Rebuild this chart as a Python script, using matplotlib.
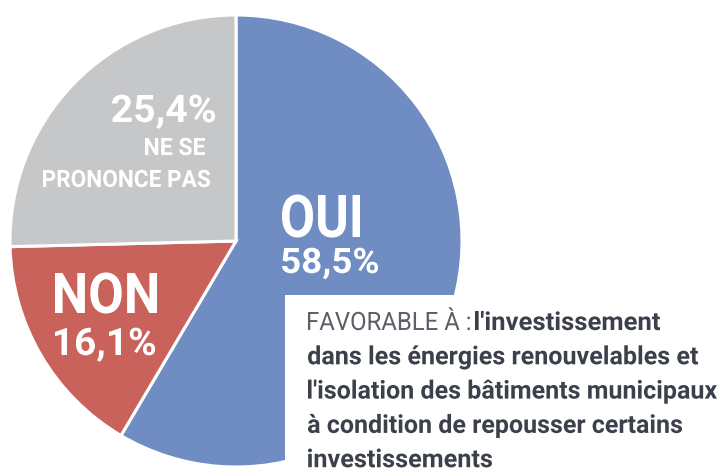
import matplotlib
matplotlib.use("Agg")
import matplotlib.pyplot as plt
from matplotlib.patches import Rectangle, PathPatch
from matplotlib.textpath import TextPath
from matplotlib.font_manager import FontProperties
from matplotlib.transforms import Affine2D

labels = ["OUI", "NON", "NE SE", "PRONONCE PAS"]
values = [58.5, 16.1, 25.4]
value_labels = ["58,5%", "16,1%", "25,4%"]
colors = ["#6f8cc3", "#c9625b", "#c6c7c9"]
note_prefix = "FAVORABLE À :"
note_lines = ["l'investissement",
              "dans les énergies renouvelables et",
              "l'isolation des bâtiments municipaux",
              "à condition de repousser certains",
              "investissements"]

W, H = 723, 472
fig = plt.figure(figsize=(W / 100, H / 100), dpi=100)
ax = fig.add_axes([0, 0, 1, 1])

cx, cy, r = 236, H - 241, 226
ax.pie(values, colors=colors, startangle=90, counterclock=False,
       center=(cx, cy), radius=r,
       wedgeprops=dict(edgecolor="white", linewidth=2.2))
ax.set_xlim(0, W)
ax.set_ylim(0, H)
ax.set_aspect("auto")
ax.axis("off")

# white overlay box for the note
ax.add_patch(Rectangle((285, -10), W, H - 295 + 10, facecolor="white",
                       edgecolor="none", zorder=5))


def draw(s, x, baseline, cap, width, ha="left", weight="bold",
         color="white", family="Roboto"):
    fp = FontProperties(family=family, weight=weight)
    tp = TextPath((0, 0), s, size=100, prop=fp)
    caph = TextPath((0, 0), "H", size=100, prop=fp).get_extents().height
    k = cap / caph
    ext = tp.get_extents()
    sx = width / (ext.width * k)
    if ha == "left":
        xp = x
    elif ha == "right":
        xp = x - width
    else:
        xp = x - width / 2
    tr = Affine2D().translate(-ext.x0, 0).scale(k * sx, k).translate(xp, H - baseline)
    ax.add_patch(PathPatch(tr.transform_path(tp), facecolor=color,
                           edgecolor="none", zorder=6, lw=0))


# slice labels (image pixel coords: x, baseline y, cap height, width)
draw(labels[0], 282, 237, 42, 78)
draw(value_labels[0], 282, 273, 25, 96)
draw(labels[1], 55, 313, 40, 102)
draw(value_labels[1], 55, 355, 27, 100)
draw(value_labels[2], 215, 122, 27, 103, ha="right")
draw(labels[2], 205, 155, 17, 60, ha="right")
draw(labels[3], 210, 187, 17, 167, ha="right")

# note text
ink = "#3b404a"
draw(note_prefix, 308, 330, 18, 162, weight="normal", color="#5a5f68")
draw(note_lines[0], 475, 330, 18, 185, color=ink)
widths = [390, 409, 374, 184]
for i, (line, w) in enumerate(zip(note_lines[1:], widths), start=1):
    draw(line, 308, 330 + 34.3 * i, 18, w, color=ink)

fig.savefig("out.png", dpi=100)
